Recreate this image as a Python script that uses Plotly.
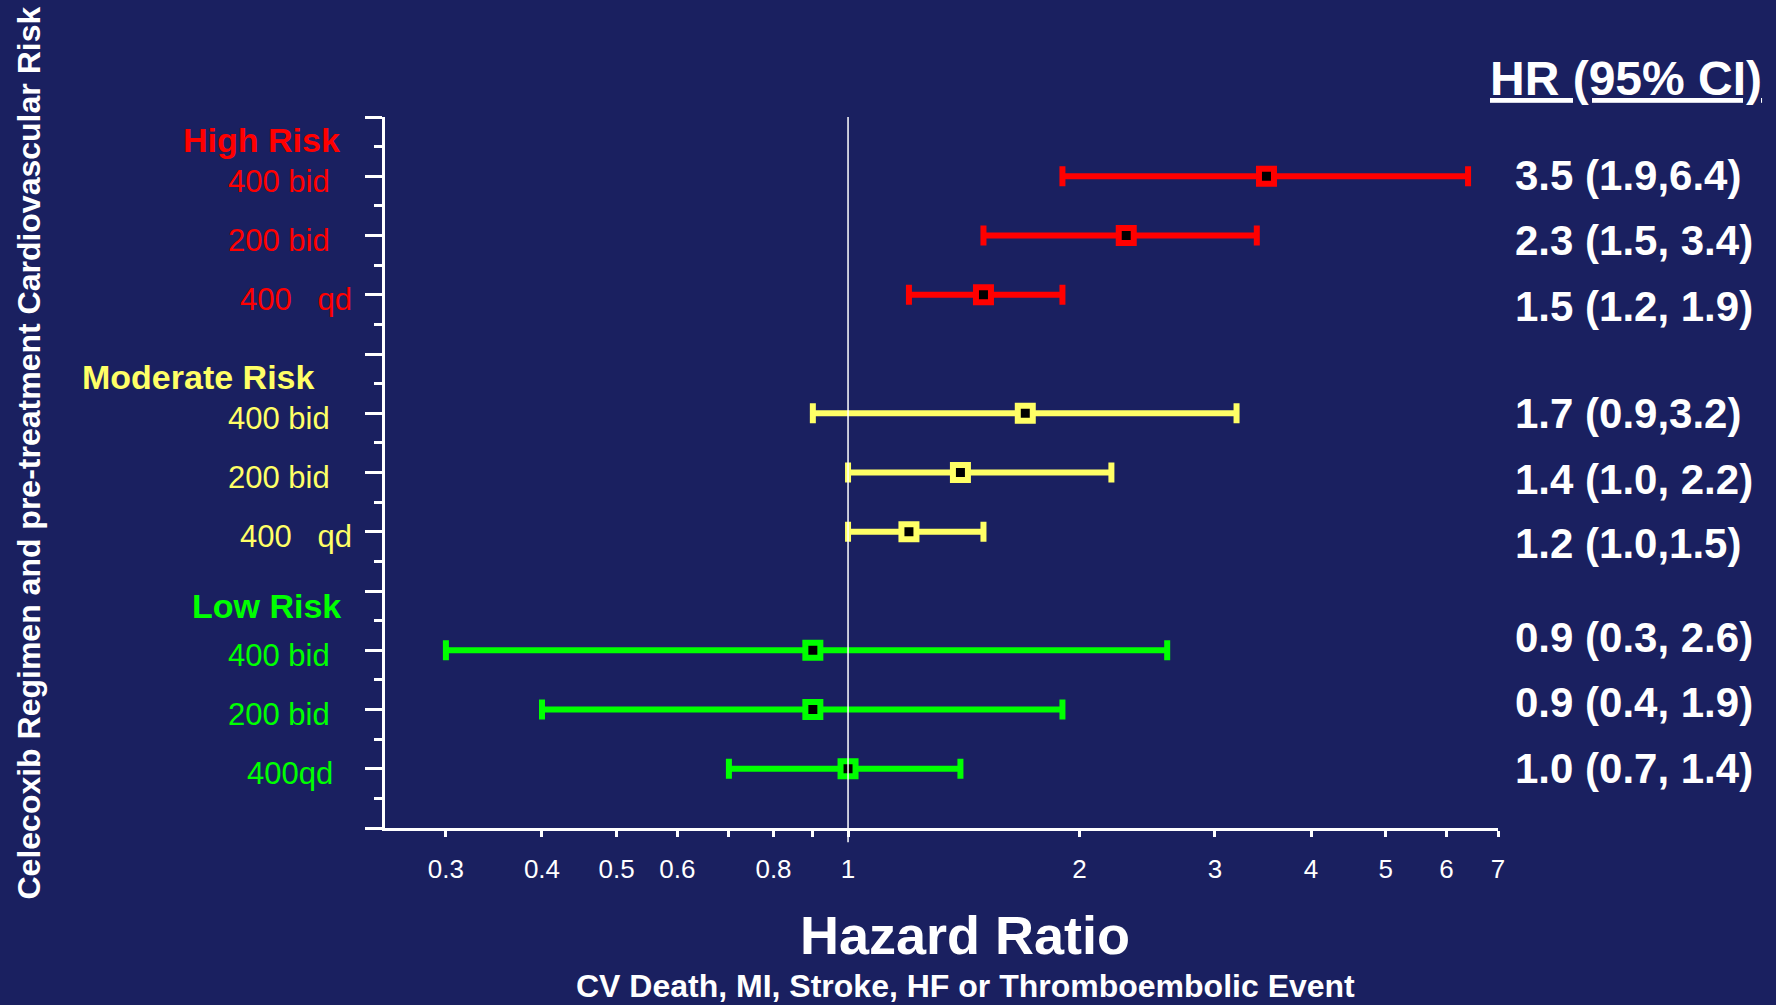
import math
import plotly.graph_objects as go

# ---------------- data ----------------
groups = ["High Risk", "Moderate Risk", "Low Risk"]
group_colors = ["#FF0000", "#FFFF66", "#00FF00"]
regimens = [
    ["400 bid", "200 bid", "400\u00a0\u00a0\u00a0qd"],
    ["400 bid", "200 bid", "400\u00a0\u00a0\u00a0qd"],
    ["400 bid", "200 bid", "400qd"],
]
hr = [[3.5, 2.3, 1.5], [1.7, 1.4, 1.2], [0.9, 0.9, 1.0]]
ci_low = [[1.9, 1.5, 1.2], [0.9, 1.0, 1.0], [0.3, 0.4, 0.7]]
ci_high = [[6.4, 3.4, 1.9], [3.2, 2.2, 1.5], [2.6, 1.9, 1.4]]
hr_text = [
    ["3.5 (1.9,6.4)", "2.3 (1.5, 3.4)", "1.5 (1.2, 1.9)"],
    ["1.7 (0.9,3.2)", "1.4 (1.0, 2.2)", "1.2 (1.0,1.5)"],
    ["0.9 (0.3, 2.6)", "0.9 (0.4, 1.9)", "1.0 (0.7, 1.4)"],
]
x_tickvals = [0.3, 0.4, 0.5, 0.6, 0.7, 0.8, 0.9, 1, 2, 3, 4, 5, 6, 7]
x_ticktext = ["0.3", "0.4", "0.5", "0.6", "", "0.8", "", "1", "2", "3", "4", "5", "6", "7"]

# ---------------- layout helpers (positions / styles) ----------------
BG = "#1a2060"
FONT = "Liberation Sans, Arial, sans-serif"
W, H = 1776, 1005
ML, MR, MT, MB = 385, 278, 117, 177
# label position tweaks
header_offset = [0.62, 0.62, 0.75]
header_xshift = [-43, -69, -42]
sub_xshift = [[-53, -53, -31], [-53, -53, -31], [-53, -53, -50]]
hr_label_dy = [[0.02, -0.09, -0.19], [-0.01, -0.11, -0.19], [0.21, 0.11, 0.0]]

fig = go.Figure()
annotations = []

for g, gname in enumerate(groups):
    ys = [11 - 4 * g - i for i in range(3)]
    col = group_colors[g]
    fig.add_trace(go.Scatter(
        x=hr[g], y=ys, mode="markers",
        marker=dict(symbol="square", size=15, color="black",
                    line=dict(color=col, width=6)),
        error_x=dict(type="data", symmetric=False,
                     array=[h - m for h, m in zip(ci_high[g], hr[g])],
                     arrayminus=[m - l for m, l in zip(hr[g], ci_low[g])],
                     color=col, thickness=6, width=10),
        showlegend=False, hoverinfo="skip", cliponaxis=False,
    ))
    # group header
    annotations.append(dict(
        text="<b>%s</b>" % gname, xref="paper", yref="y", x=0, y=ys[0] + header_offset[g],
        xanchor="right", yanchor="middle", xshift=header_xshift[g], showarrow=False,
        font=dict(family=FONT, size=34, color=col)))
    for i in range(3):
        annotations.append(dict(
            text=regimens[g][i], xref="paper", yref="y", x=0, y=ys[i],
            xanchor="right", yanchor="middle", xshift=sub_xshift[g][i], yshift=-5,
            showarrow=False, font=dict(family=FONT, size=31, color=col)))
        annotations.append(dict(
            text="<b>%s</b>" % hr_text[g][i], xref="paper", yref="y", x=1,
            y=ys[i] + hr_label_dy[g][i],
            xanchor="left", yanchor="middle", xshift=15, showarrow=False,
            font=dict(family=FONT, size=42, color="white")))

annotations += [
    dict(text="<b><u>HR (95% CI)</u></b>", xref="paper", yref="paper", x=1, y=1,
         xanchor="center", yanchor="middle", xshift=128, yshift=39, showarrow=False,
         font=dict(family=FONT, size=48, color="white")),
    dict(text="<b>Hazard Ratio</b>", xref="paper", yref="paper", x=0.5, y=0,
         xanchor="center", yanchor="middle", xshift=23, yshift=-107, showarrow=False,
         font=dict(family=FONT, size=54, color="white")),
    dict(text="<b>CV Death, MI, Stroke, HF or Thromboembolic Event</b>", xref="paper",
         yref="paper", x=0.5, y=0, xanchor="center", yanchor="middle", xshift=24,
         yshift=-158, showarrow=False, font=dict(family=FONT, size=32, color="white")),
    dict(text="<b>Celecoxib Regimen and pre-treatment Cardiovascular Risk</b>",
         xref="paper", yref="paper", x=0, y=0.5, textangle=-90,
         xanchor="center", yanchor="middle", xshift=-357, yshift=19, showarrow=False,
         font=dict(family=FONT, size=32, color="white")),
]

fig.add_shape(type="line", xref="x", yref="paper", x0=1, x1=1, y0=-0.02, y1=1,
              line=dict(color="white", width=1.5), layer="above")

fig.update_layout(
    width=W, height=H,
    margin=dict(l=ML, r=MR, t=MT, b=MB, pad=0),
    paper_bgcolor=BG, plot_bgcolor=BG,
    annotations=annotations,
    xaxis=dict(type="log", range=[math.log10(0.25), math.log10(7)],
               tickmode="array", tickvals=x_tickvals, ticktext=x_ticktext,
               ticks="outside", ticklen=6, tickwidth=3, tickcolor="white",
               showline=True, linewidth=3, linecolor="white",
               showgrid=False, zeroline=False, ticklabelstandoff=10,
               tickfont=dict(family=FONT, size=26, color="white")),
    yaxis=dict(range=[0, 12], tickmode="linear", tick0=0, dtick=1,
               ticks="outside", ticklen=17, tickwidth=3, tickcolor="white",
               showticklabels=False, showline=True, linewidth=3, linecolor="white",
               showgrid=False, zeroline=False,
               minor=dict(dtick=0.5, ticks="outside", ticklen=8, tickwidth=3,
                          tickcolor="white", showgrid=False)),
    font=dict(family=FONT, color="white"),
)

fig.write_html(
    "out.html",
    config={"displayModeBar": False},
    post_script="document.body.style.margin='0';document.body.style.background='%s';" % BG,
)
